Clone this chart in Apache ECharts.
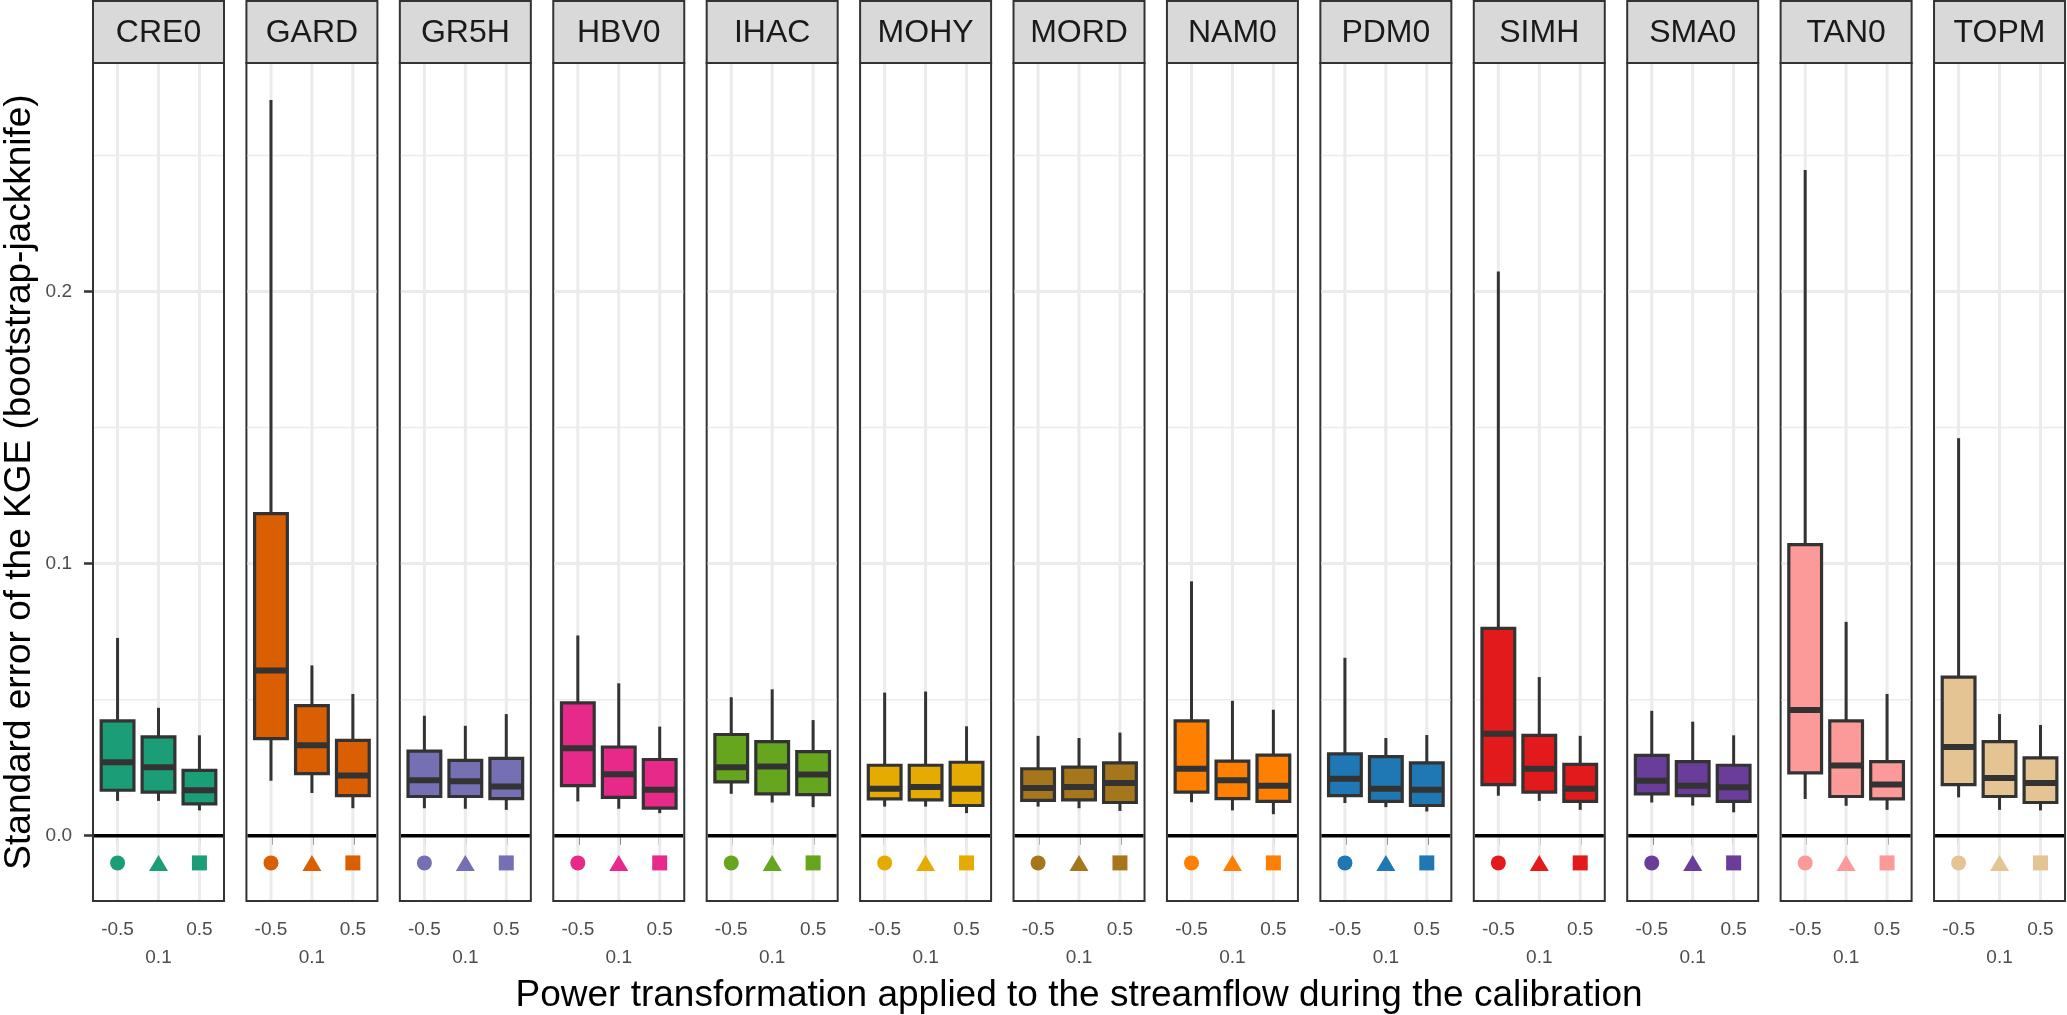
<!DOCTYPE html>
<html lang="en">
<head>
    <meta charset="UTF-8">
    <title>Standard error of the KGE by model</title>
    <script src="https://cdn.jsdelivr.net/npm/echarts@6/dist/echarts.min.js"></script>
    <style>
        html, body, #chart {
            width: 100%;
            height: 100%;
            padding: 0;
            margin: 0;
            background: #ffffff;
        }
    </style>
</head>
<body>
<div id="chart"></div>
<script>
    // hydrological models (one facet each) and their fill colours
    var models = ["CRE0", "GARD", "GR5H", "HBV0", "IHAC", "MOHY", "MORD", "NAM0", "PDM0", "SIMH", "SMA0", "TAN0", "TOPM"];
    var modelColors = ["#1B9E77", "#D95F02", "#7570B3", "#E7298A", "#66A61E", "#E6AB02", "#A6761D",
        "#FF7F00", "#1F78B4", "#E31A1C", "#6A3D9A", "#FB9A99", "#E5C494"];

    // power transformation levels, plotted at positions 1, 2, 3
    var powerLabels = ["-0.5", "0.1", "0.5"];
    var powerPositions = [1, 2, 3];
    var markerShapes = ["circle", "triangle", "rect"];
    var markerLevel = -0.01;

    var yRange = [-0.024, 0.284];
    var yTicks = [0, 0.1, 0.2];
    var yMinorGrid = [0.05, 0.15, 0.25];

    // box statistics, one row per model, one value per power level
    var whiskerLow = [
        [0.0128, 0.0128, 0.0093], [0.0202, 0.0157, 0.0101], [0.0101, 0.0099, 0.0095],
        [0.0126, 0.0099, 0.0083], [0.0154, 0.0122, 0.0105], [0.0107, 0.0107, 0.0083],
        [0.0107, 0.0101, 0.0091], [0.0123, 0.0093, 0.0079], [0.0120, 0.0105, 0.0089],
        [0.0147, 0.0128, 0.0095], [0.0122, 0.0111, 0.0086], [0.0135, 0.0110, 0.0095],
        [0.0141, 0.0095, 0.0093]
    ];
    var lowerQuartile = [
        [0.0167, 0.0160, 0.0117], [0.0357, 0.0228, 0.0147], [0.0144, 0.0144, 0.0136],
        [0.0184, 0.0141, 0.0101], [0.0198, 0.0154, 0.0151], [0.0135, 0.0132, 0.0111],
        [0.0130, 0.0132, 0.0122], [0.0160, 0.0136, 0.0126], [0.0147, 0.0126, 0.0111],
        [0.0188, 0.0160, 0.0126], [0.0154, 0.0147, 0.0126], [0.0231, 0.0144, 0.0135],
        [0.0188, 0.0144, 0.0122]
    ];
    var median = [
        [0.0270, 0.0252, 0.0167], [0.0607, 0.0332, 0.0221], [0.0204, 0.0200, 0.0181],
        [0.0321, 0.0226, 0.0169], [0.0252, 0.0254, 0.0225], [0.0173, 0.0179, 0.0173],
        [0.0175, 0.0179, 0.0194], [0.0246, 0.0204, 0.0184], [0.0209, 0.0173, 0.0169],
        [0.0375, 0.0246, 0.0173], [0.0202, 0.0184, 0.0178], [0.0462, 0.0258, 0.0188],
        [0.0326, 0.0212, 0.0194]
    ];
    var upperQuartile = [
        [0.0422, 0.0363, 0.0240], [0.1184, 0.0478, 0.0350], [0.0311, 0.0277, 0.0284],
        [0.0488, 0.0326, 0.0280], [0.0372, 0.0346, 0.0309], [0.0259, 0.0259, 0.0270],
        [0.0246, 0.0252, 0.0268], [0.0422, 0.0274, 0.0296], [0.0301, 0.0291, 0.0268],
        [0.0762, 0.0369, 0.0262], [0.0295, 0.0272, 0.0259], [0.1070, 0.0422, 0.0272],
        [0.0583, 0.0346, 0.0286]
    ];
    var whiskerHigh = [
        [0.0727, 0.0470, 0.0369], [0.2704, 0.0626, 0.0521], [0.0441, 0.0404, 0.0447],
        [0.0736, 0.0560, 0.0401], [0.0509, 0.0538, 0.0425], [0.0526, 0.0530, 0.0402],
        [0.0367, 0.0359, 0.0379], [0.0935, 0.0496, 0.0463], [0.0654, 0.0359, 0.0370],
        [0.2074, 0.0583, 0.0367], [0.0459, 0.0419, 0.0369], [0.2447, 0.0786, 0.0521],
        [0.1461, 0.0447, 0.0407]
    ];

    // layout
    var FONT = "'Liberation Sans', Arial, sans-serif";
    var PANEL_LEFT = 93, PANEL_STEP = 153.42, PANEL_W = 131;
    var PANEL_TOP = 63, PANEL_H = 838;
    var STRIP_TOP = 1, STRIP_H = 62;
    var BOX_WIDTH = 0.8;
    var OUTLINE = "#333333";

    var myChart = echarts.init(document.getElementById("chart"));

    // grid lines + zero line: kind 0 minor, 1 major, 2 vertical, 3 zero reference
    function renderPanelLines(params, api) {
        var cs = params.coordSys;
        var kind = api.value(2);
        var p = api.coord([api.value(0), api.value(1)]);
        var shape, style;
        if (kind === 2) {
            shape = {x1: p[0], y1: cs.y + 1, x2: p[0], y2: cs.y + cs.height - 1};
            style = {stroke: "#EBEBEB", lineWidth: 3};
        } else {
            shape = {x1: cs.x + 1, y1: p[1], x2: cs.x + cs.width - 1, y2: p[1]};
            if (kind === 3) {
                style = {stroke: "#000000", lineWidth: 3.5};
            } else {
                style = {stroke: "#EBEBEB", lineWidth: kind === 1 ? 3 : 1.5};
            }
        }
        return {type: "line", shape: shape, style: style, silent: true};
    }

    function renderBox(params, api) {
        var x = api.value(0);
        var low = api.coord([x, api.value(1)]);
        var q1 = api.coord([x, api.value(2)]);
        var med = api.coord([x, api.value(3)]);
        var q3 = api.coord([x, api.value(4)]);
        var high = api.coord([x, api.value(5)]);
        var halfW = api.size([BOX_WIDTH, 0])[0] / 2;
        var fill = api.visual("color");
        var line = {stroke: OUTLINE, lineWidth: 3};
        return {
            type: "group",
            children: [
                {type: "line", shape: {x1: low[0], y1: low[1], x2: q1[0], y2: q1[1]}, style: line},
                {type: "line", shape: {x1: q3[0], y1: q3[1], x2: high[0], y2: high[1]}, style: line},
                {
                    type: "rect",
                    shape: {x: q3[0] - halfW, y: q3[1], width: halfW * 2, height: q1[1] - q3[1]},
                    style: {fill: fill, stroke: OUTLINE, lineWidth: 3.2}
                },
                {
                    type: "line",
                    shape: {x1: med[0] - halfW, y1: med[1], x2: med[0] + halfW, y2: med[1]},
                    style: {stroke: OUTLINE, lineWidth: 6}
                }
            ]
        };
    }

    var lineData = [];
    yMinorGrid.forEach(function (v) { lineData.push([2, v, 0]); });
    yTicks.forEach(function (v) { lineData.push([2, v, 1]); });
    powerPositions.forEach(function (x) { lineData.push([x, 0.1, 2]); });
    lineData.push([2, 0, 3]);

    var grids = [], xAxes = [], yAxes = [], series = [], graphics = [];

    models.forEach(function (model, i) {
        var left = PANEL_LEFT + i * PANEL_STEP;
        grids.push({
            left: left, top: PANEL_TOP, width: PANEL_W, height: PANEL_H,
            containLabel: false, outerBoundsMode: "none",
            show: true, backgroundColor: "#ffffff", borderColor: OUTLINE, borderWidth: 2
        });

        var xAxis = {
            gridIndex: i, type: "value", min: 0.4, max: 3.6,
            axisLine: {show: false},
            splitLine: {show: false},
            axisTick: {show: true, customValues: powerPositions, length: 9, lineStyle: {color: OUTLINE, width: 2.5}},
            axisLabel: {
                customValues: powerPositions,
                formatter: function (v) {
                    var k = Math.round(v) - 1;
                    return k === 1 ? "\n" + powerLabels[k] : powerLabels[k];
                },
                margin: 15, fontSize: 19, lineHeight: 28, color: "#4D4D4D", fontFamily: FONT
            }
        };
        if (i === 6) {
            xAxis.name = "Power transformation applied to the streamflow during the calibration";
            xAxis.nameLocation = "middle";
            xAxis.nameGap = 75;
            xAxis.nameTextStyle = {fontSize: 37, color: "#000000", fontFamily: FONT};
        }
        xAxes.push(xAxis);

        var yAxis = {
            gridIndex: i, type: "value", min: yRange[0], max: yRange[1],
            axisLine: {show: false},
            splitLine: {show: false},
            axisTick: {show: i === 0, customValues: yTicks, length: 9, lineStyle: {color: OUTLINE, width: 2.5}},
            axisLabel: {
                show: i === 0, customValues: yTicks,
                formatter: function (v) { return v.toFixed(1); },
                margin: 21, fontSize: 19, color: "#4D4D4D", fontFamily: FONT
            }
        };
        if (i === 0) {
            yAxis.name = "Standard error of the KGE (bootstrap-jackknife)";
            yAxis.nameLocation = "middle";
            yAxis.nameGap = 55;
            yAxis.nameTextStyle = {fontSize: 37, color: "#000000", fontFamily: FONT};
        }
        yAxes.push(yAxis);

        series.push({
            type: "custom", xAxisIndex: i, yAxisIndex: i, z: 1, silent: true,
            renderItem: renderPanelLines,
            data: lineData
        });

        series.push({
            type: "custom", name: model, xAxisIndex: i, yAxisIndex: i, z: 3,
            itemStyle: {color: modelColors[i]},
            encode: {x: 0, y: [1, 2, 3, 4, 5]},
            renderItem: renderBox,
            data: powerPositions.map(function (x, k) {
                return [x, whiskerLow[i][k], lowerQuartile[i][k], median[i][k], upperQuartile[i][k], whiskerHigh[i][k]];
            })
        });

        series.push({
            type: "scatter", xAxisIndex: i, yAxisIndex: i, z: 4, silent: true,
            itemStyle: {color: modelColors[i], opacity: 1},
            data: powerPositions.map(function (x, k) {
                return {
                    value: [x, markerLevel],
                    symbol: markerShapes[k],
                    symbolSize: k === 1 ? [19, 16] : 15
                };
            })
        });

        graphics.push({
            type: "rect",
            shape: {x: left, y: STRIP_TOP, width: PANEL_W, height: STRIP_H},
            style: {fill: "#D9D9D9", stroke: OUTLINE, lineWidth: 2},
            silent: true
        });
        graphics.push({
            type: "text",
            x: left + PANEL_W / 2, y: STRIP_TOP + STRIP_H / 2 + 1,
            style: {
                text: model, fontSize: 32, fill: "#1A1A1A", fontFamily: FONT,
                align: "center", verticalAlign: "middle"
            },
            silent: true
        });
    });

    myChart.setOption({
        animation: false,
        backgroundColor: "#ffffff",
        textStyle: {fontFamily: FONT},
        grid: grids,
        xAxis: xAxes,
        yAxis: yAxes,
        series: series,
        graphic: graphics
    });
</script>
</body>
</html>
